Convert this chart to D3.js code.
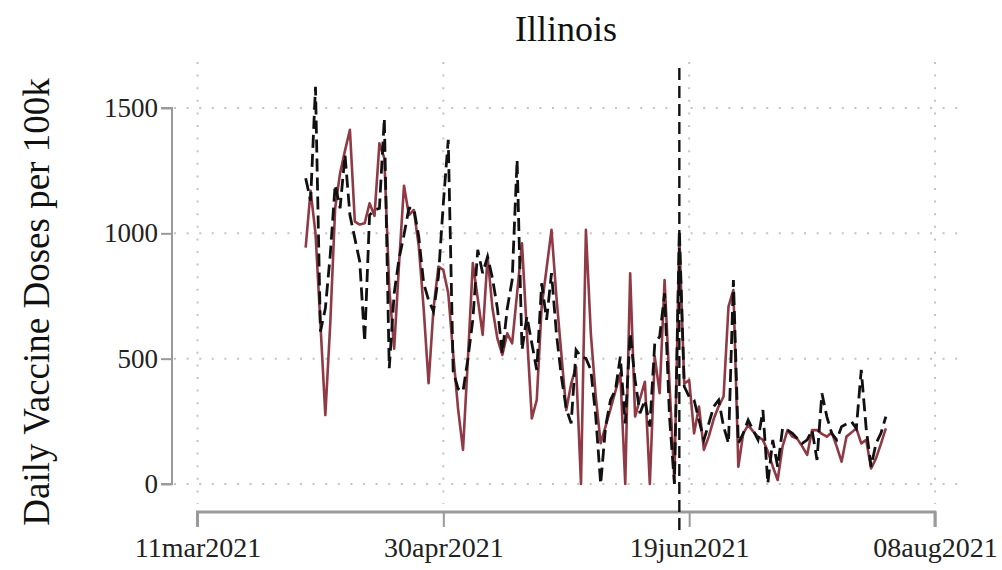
<!DOCTYPE html>
<html>
<head>
<meta charset="utf-8">
<script src="https://cdn.jsdelivr.net/npm/d3@7"></script>
<style>
  body { margin: 0; background: #fff; }
  svg { display: block; font-family: "Liberation Serif", "DejaVu Serif", serif; }
</style>
</head>
<body>
<svg id="chart" width="1002" height="570"></svg>
<script>
// first day of both series, one value per day after that
var firstDay = "2021-04-02";
var eventDay = "2021-06-17";

// solid maroon series
var redDoses = [943, 1170, 1000, 640, 275, 640, 1100, 1240, 1330, 1413,
    1047, 1035, 1040, 1120, 1070, 1359, 1300, 780, 540, 880,
    1190, 1073, 1093, 950, 700, 402, 700, 867, 854, 761,
    520, 300, 136, 500, 881, 740, 595, 907, 700, 580,
    515, 601, 561, 760, 960, 600, 262, 335, 708, 860,
    1014, 747, 520, 295, 400, 468, 0, 1014, 600, 350,
    163, 230, 300, 370, 442, 0, 841, 269, 340, 408,
    0, 508, 362, 814, 400, 9, 987, 400, 415, 202,
    309, 136, 190, 260, 310, 349, 708, 774, 69, 202,
    235, 210, 189, 176, 130, 70, 16, 150, 215, 189,
    180, 150, 116, 215, 215, 200, 189, 205, 150, 89,
    189, 205, 222, 162, 176, 62, 102, 160, 222];

// dashed black series
var blackDoses = [1220, 1130, 1585, 608, 700, 914, 1193, 1100, 1313, 1073,
    980, 887, 568, 1073, 1093, 1100, 1459, 462, 760, 900,
    994, 1100, 1100, 987, 801, 734, 688, 827, 1120, 1373,
    450, 380, 369, 500, 655, 934, 841, 907, 820, 700,
    521, 700, 814, 1293, 535, 668, 561, 455, 801, 655,
    841, 600, 430, 300, 242, 535, 508, 501, 455, 270,
    0, 229, 335, 375, 508, 242, 601, 415, 282, 335,
    229, 561, 588, 761, 269, 0, 1013, 389, 348, 335,
    255, 176, 242, 309, 335, 229, 162, 814, 162, 202,
    255, 215, 176, 295, 2, 176, 69, 222, 215, 202,
    182, 162, 176, 215, 96, 362, 269, 202, 176, 229,
    240, 249, 222, 455, 222, 69, 162, 202, 269];

var xTickDates = ["2021-03-11", "2021-04-30", "2021-06-19", "2021-08-08"];
var xTickLabels = ["11mar2021", "30apr2021", "19jun2021", "08aug2021"];
var yTicks = [0, 500, 1000, 1500];

var parse = d3.timeParse("%Y-%m-%d");
var start = parse(firstDay);
var redData = redDoses.map(function (v, i) { return { date: d3.timeDay.offset(start, i), v: v }; });
var blackData = blackDoses.map(function (v, i) { return { date: d3.timeDay.offset(start, i), v: v }; });

var svg = d3.select("#chart");

var x = d3.scaleTime()
    .domain([parse(xTickDates[0]), parse(xTickDates[3])])
    .range([197.5, 935]);
var y = d3.scaleLinear().domain([0, 1500]).range([484, 108]);

var gridColor = "#c4c4c4";
var axisColor = "#9a9a9a";

// horizontal dotted grid
svg.append("g").selectAll("line").data(yTicks).join("line")
    .attr("x1", 174).attr("x2", 966)
    .attr("y1", function (d) { return y(d); })
    .attr("y2", function (d) { return y(d); })
    .attr("stroke", gridColor).attr("stroke-width", 2)
    .attr("stroke-dasharray", "2,10.6");

// vertical dotted grid
svg.append("g").selectAll("line").data(xTickDates).join("line")
    .attr("x1", function (d) { return x(parse(d)); })
    .attr("x2", function (d) { return x(parse(d)); })
    .attr("y1", 62).attr("y2", 504)
    .attr("stroke", gridColor).attr("stroke-width", 2)
    .attr("stroke-dasharray", "2,10.6");

// y axis
var yAxis = d3.axisLeft(y).tickValues(yTicks).tickFormat(d3.format("d"))
    .tickSize(11).tickPadding(3);
var gY = svg.append("g").attr("transform", "translate(172,0)").call(yAxis);
gY.select(".domain").attr("stroke", axisColor).attr("stroke-width", 2)
    .attr("d", "M-11," + y(1500) + "H0V" + y(0) + "H-11");
gY.selectAll(".tick line").attr("stroke", axisColor).attr("stroke-width", 2);
gY.selectAll(".tick text").attr("fill", "#222").style("font-size", "27px")
    .style("font-family", "Liberation Serif");

// x axis
var xAxis = d3.axisBottom(x).tickValues(xTickDates.map(parse))
    .tickFormat(function (d, i) { return xTickLabels[i]; })
    .tickSize(15).tickPadding(10);
var gX = svg.append("g").attr("transform", "translate(0,512)").call(xAxis);
gX.select(".domain").attr("stroke", axisColor).attr("stroke-width", 3)
    .attr("d", "M" + x.range()[0] + ",15V0H" + x.range()[1] + "V15");
gX.selectAll(".tick line").attr("stroke", axisColor).attr("stroke-width", 2);
gX.selectAll(".tick text").attr("fill", "#222").style("font-size", "28px")
    .style("font-family", "Liberation Serif");

var line = d3.line()
    .x(function (d) { return x(d.date); })
    .y(function (d) { return y(d.v); });

svg.append("path").datum(redData)
    .attr("d", line)
    .attr("fill", "none")
    .attr("stroke", "#8f3a44")
    .attr("stroke-width", 2.6)
    .attr("stroke-linejoin", "round");

svg.append("path").datum(blackData)
    .attr("d", line)
    .attr("fill", "none")
    .attr("stroke", "#111")
    .attr("stroke-width", 2.8)
    .attr("stroke-dasharray", "13,6");

// event marker
svg.append("line")
    .attr("x1", x(parse(eventDay))).attr("x2", x(parse(eventDay)))
    .attr("y1", 68).attr("y2", 532)
    .attr("stroke", "#111").attr("stroke-width", 2.4)
    .attr("stroke-dasharray", "12,6");

// titles
svg.append("text")
    .attr("x", 566).attr("y", 41)
    .attr("text-anchor", "middle")
    .style("font-size", "36px").attr("fill", "#111")
    .text("Illinois");

svg.append("text")
    .attr("transform", "translate(49,302) rotate(-90)")
    .attr("text-anchor", "middle")
    .style("font-size", "37px").attr("fill", "#111")
    .text("Daily Vaccine Doses per 100k");
</script>
</body>
</html>
